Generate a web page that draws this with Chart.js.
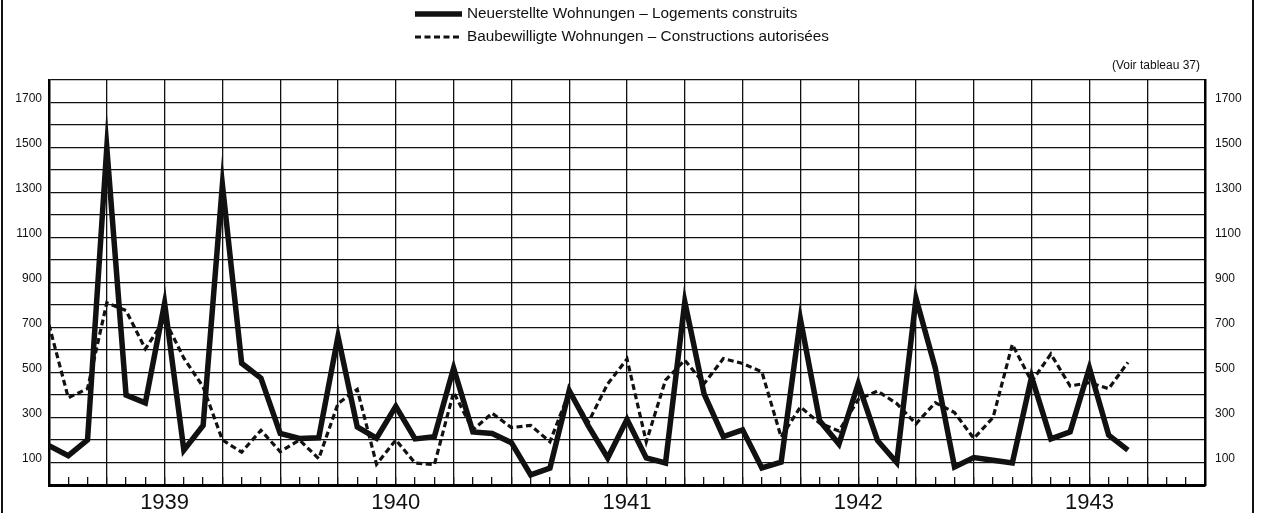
<!DOCTYPE html>
<html><head><meta charset="utf-8">
<script src="https://cdn.jsdelivr.net/npm/chart.js@4.4.1/dist/chart.umd.min.js"></script>
<style>html,body{margin:0;padding:0;background:#fff;}canvas{display:block;}</style>
</head><body>
<canvas id="c" width="1261" height="513"></canvas>
<script>
const solidLabel = 'Neuerstellte Wohnungen – Logements construits';
const dashedLabel = 'Baubewilligte Wohnungen – Constructions autorisées';
const noteText = '(Voir tableau 37)';
const yearLabels = ['1939', '1940', '1941', '1942', '1943'];
const yearTickMonths = [6, 18, 30, 42, 54];
const yTickLabels = ['100', '300', '500', '700', '900', '1100', '1300', '1500', '1700'];
// monthly values, Jan 1939 .. Sep 1943
const neuerstellte = [175, 130, 200, 1500, 400, 365, 808, 155, 265, 1335, 541, 475,
  229, 207, 210, 660, 258, 208, 350, 205, 215, 520, 236, 229,
  188, 45, 75, 420, 262, 120, 292, 120, 98, 815, 405, 215,
  245, 76, 102, 737, 285, 182, 450, 198, 100, 830, 520, 80,
  122, 110, 98, 480, 205, 236, 520, 222, 155];
const baubewilligte = [712, 388, 428, 810, 775, 605, 735, 564, 436, 200, 146, 243,
  148, 200, 117, 362, 425, 92, 200, 98, 90, 412, 245, 319,
  255, 265, 192, 412, 280, 450, 560, 192, 466, 555, 450, 562,
  540, 503, 213, 347, 275, 240, 380, 418, 362, 272, 366, 322,
  207, 300, 625, 460, 582, 440, 455, 428, 545];

const INK = '#111';
const toPoints = arr => arr.map((v, i) => ({ x: i, y: v }));
const yCallback = v => yTickLabels.includes(String(v)) ? String(v) : '';

const decorPlugin = {
  id: 'decor',
  beforeDatasetsDraw(chart) { chart.ctx.miterLimit = 40; },
  afterDraw(chart) {
    const ctx = chart.ctx;
    ctx.save();
    ctx.strokeStyle = INK;
    ctx.fillStyle = INK;
    // outer frame sides
    ctx.lineWidth = 2;
    ctx.beginPath();
    ctx.moveTo(2, 0); ctx.lineTo(2, 513);
    ctx.moveTo(1253, 0); ctx.lineTo(1253, 513);
    ctx.stroke();
    // legend
    const ds = chart.data.datasets;
    const rows = [14, 37];
    ds.forEach((d, k) => {
      ctx.lineWidth = d.borderWidth;
      ctx.setLineDash(d.borderDash || []);
      ctx.beginPath();
      ctx.moveTo(415, rows[k]); ctx.lineTo(462, rows[k]);
      ctx.stroke();
      ctx.setLineDash([]);
      ctx.font = '15.3px "Liberation Sans", Arial, sans-serif';
      ctx.textBaseline = 'middle';
      ctx.textAlign = 'left';
      ctx.fillText(d.label, 467, rows[k]);
    });
    ctx.font = '12px "Liberation Sans", Arial, sans-serif';
    ctx.textAlign = 'right';
    ctx.fillText(noteText, 1200, 66);
    ctx.restore();
  }
};

new Chart(document.getElementById('c').getContext('2d'), {
  type: 'line',
  data: {
    datasets: [
      { label: solidLabel, data: toPoints(neuerstellte), borderColor: INK, borderWidth: 5.5,
        borderJoinStyle: 'miter', borderCapStyle: 'butt', pointRadius: 0, tension: 0, fill: false },
      { label: dashedLabel, data: toPoints(baubewilligte), borderColor: INK, borderWidth: 3.2,
        borderDash: [6, 3.5], borderJoinStyle: 'miter', pointRadius: 0, tension: 0, fill: false }
    ]
  },
  options: {
    responsive: false, animation: false, devicePixelRatio: 1,
    layout: { padding: { top: 80, left: 0, right: 0, bottom: 0 } },
    plugins: { legend: { display: false }, tooltip: { enabled: false } },
    scales: {
      x: {
        type: 'linear', min: 0, max: 60, position: 'bottom',
        grid: {
          color: c => (c.tick && c.tick.value % 3 === 0) ? INK : 'rgba(0,0,0,0)',
          lineWidth: 1.3, tickColor: INK, tickWidth: 1.3, tickLength: -8, drawTicks: true
        },
        border: { display: true, color: '#000', width: 3 },
        ticks: {
          stepSize: 1, autoSkip: false, maxRotation: 0, padding: 13, color: INK,
          font: { family: '"Liberation Sans", Arial, sans-serif', size: 22 },
          callback: v => { const k = yearTickMonths.indexOf(v); return k >= 0 ? yearLabels[k] : ''; }
        },
        afterFit: s => { s.height = 28; }
      },
      y: {
        min: 0, max: 1800, position: 'left',
        grid: { color: INK, lineWidth: 1.3, drawTicks: false },
        border: { display: true, color: '#000', width: 2.5 },
        ticks: { stepSize: 100, autoSkip: false, padding: 7, labelOffset: -4, color: INK,
          font: { family: '"Liberation Sans", Arial, sans-serif', size: 12 }, callback: yCallback },
        afterFit: s => { s.width = 49; }
      },
      y2: {
        min: 0, max: 1800, position: 'right',
        grid: { drawOnChartArea: false, drawTicks: false },
        border: { display: true, color: '#000', width: 2.5 },
        ticks: { stepSize: 100, autoSkip: false, padding: 10, labelOffset: -4, color: INK,
          font: { family: '"Liberation Sans", Arial, sans-serif', size: 12 }, callback: yCallback },
        afterFit: s => { s.width = 56; }
      }
    }
  },
  plugins: [decorPlugin]
});
</script>
</body></html>
